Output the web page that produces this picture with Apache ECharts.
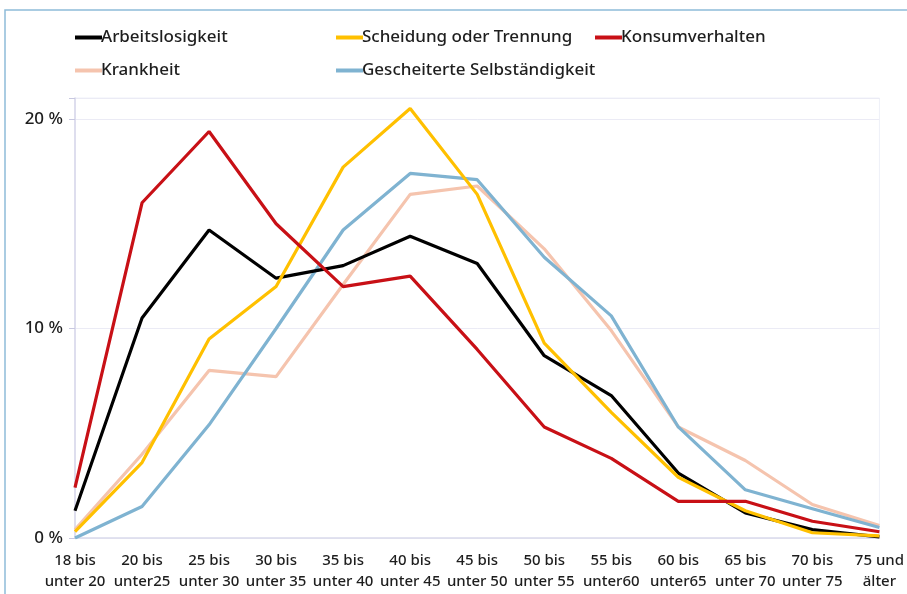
<!DOCTYPE html>
<html>
<head>
<meta charset="utf-8">
<script src="https://cdn.jsdelivr.net/npm/echarts@6/dist/echarts.min.js"></script>
<style>
  html, body { margin: 0; padding: 0; background: #fff; }
  #chart { width: 907px; height: 594px; }
</style>
</head>
<body>
<div id="chart"></div>
<script>
// Altersgruppen
var categories = ['18 bis\nunter 20', '20 bis\nunter25', '25 bis\nunter 30', '30 bis\nunter 35', '35 bis\nunter 40',
  '40 bis\nunter 45', '45 bis\nunter 50', '50 bis\nunter 55', '55 bis\nunter60', '60 bis\nunter65',
  '65 bis\nunter 70', '70 bis\nunter 75', '75 und\nälter'];

// Anteile in %
var arbeitslosigkeit = [1.3, 10.5, 14.7, 12.4, 13.0, 14.4, 13.1, 8.7, 6.8, 3.1, 1.2, 0.4, 0.05];
var scheidung = [0.3, 3.6, 9.5, 12.0, 17.7, 20.5, 16.4, 9.3, 6.0, 2.9, 1.3, 0.25, 0.1];
var konsum = [2.4, 16.0, 19.4, 15.0, 12.0, 12.5, 9.0, 5.3, 3.8, 1.75, 1.75, 0.8, 0.3];
var krankheit = [0.4, 4.0, 8.0, 7.7, 12.1, 16.4, 16.8, 13.8, 9.9, 5.3, 3.7, 1.6, 0.6];
var selbstaendig = [0.0, 1.5, 5.4, 10.0, 14.7, 17.4, 17.1, 13.4, 10.6, 5.3, 2.3, 1.4, 0.5];

var yTicks = [0, 10, 20];

var textColor = '#1e1e1e';
var font = '"Noto Sans", sans-serif';

function mkLegend(name, left, top) {
  return {
    data: [name],
    left: left,
    top: top,
    icon: 'rect',
    itemWidth: 27,
    itemHeight: 4,
    selectedMode: false,
    textStyle: { color: textColor, fontSize: 17, fontFamily: font, fontWeight: 500, padding: [0, 0, 0, -6] }
  };
}

function mkSeries(name, data, color) {
  return {
    name: name,
    type: 'line',
    data: data,
    symbol: 'none',
    lineStyle: { color: color, width: 3.2 },
    itemStyle: { color: color }
  };
}

var chart = echarts.init(document.getElementById('chart'));

chart.setOption({
  animation: false,
  graphic: [{
    type: 'rect',
    shape: { x: 5, y: 10, width: 1000, height: 1000 },
    style: { fill: 'none', stroke: '#8fbcd9', lineWidth: 1.5 }
  }],
  legend: [
    mkLegend('Arbeitslosigkeit', 70, 24),
    mkLegend('Scheidung oder Trennung', 331, 24),
    mkLegend('Konsumverhalten', 590, 24),
    mkLegend('Krankheit', 70, 57),
    mkLegend('Gescheiterte Selbständigkeit', 331, 57)
  ],
  grid: {
    left: 75, right: 27, top: 98, bottom: 56,
    show: true, borderColor: '#eef0f8', borderWidth: 1
  },
  xAxis: {
    type: 'category',
    data: categories,
    boundaryGap: false,
    axisLine: { lineStyle: { color: '#dcdcec', width: 1.5 } },
    axisTick: { show: false },
    axisLabel: {
      color: textColor, fontSize: 15, fontFamily: font, fontWeight: 500, lineHeight: 21, margin: 12, interval: 0
    },
    splitLine: { show: false }
  },
  yAxis: {
    type: 'value',
    min: 0, max: 21, interval: 10,
    axisLine: { show: true, lineStyle: { color: '#d6d6ea', width: 1.5 } },
    axisTick: { show: true, length: 6, lineStyle: { color: '#c8c8e0' } },
    axisLabel: {
      color: textColor, fontSize: 17, fontFamily: font, fontWeight: 500, margin: 12,
      formatter: function (v) { return yTicks.indexOf(v) >= 0 ? v + ' %' : ''; }
    },
    splitLine: { lineStyle: { color: '#ebebf5', width: 1 } }
  },
  series: [
    mkSeries('Krankheit', krankheit, '#f5c4ae'),
    mkSeries('Gescheiterte Selbständigkeit', selbstaendig, '#7fb3d1'),
    mkSeries('Arbeitslosigkeit', arbeitslosigkeit, '#000000'),
    mkSeries('Scheidung oder Trennung', scheidung, '#ffc000'),
    mkSeries('Konsumverhalten', konsum, '#c81016')
  ]
});
</script>
</body>
</html>
